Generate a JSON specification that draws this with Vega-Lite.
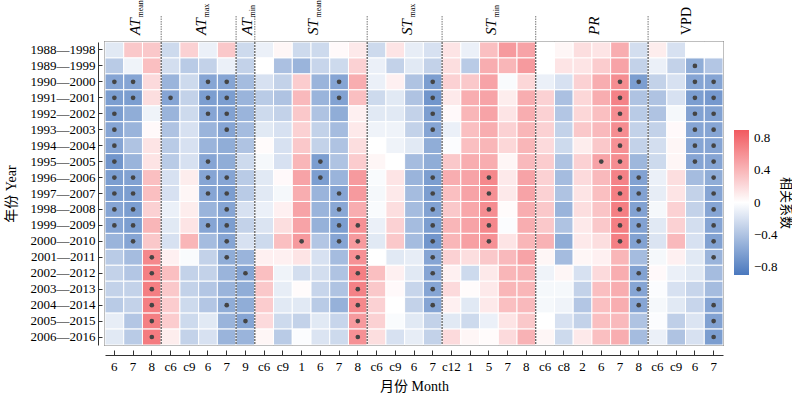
{
  "$schema": "https://vega.github.io/schema/vega-lite/v6.json",
  "background": "white",
  "padding": {"left": 3, "right": 0, "top": 0, "bottom": 0},
  "spacing": 0,
  "bounds": "flush",
  "config": {
    "font": "Liberation Serif, Noto Sans CJK SC",
    "axis": {"labelFont": "Liberation Serif", "labelFontSize": 13, "labelColor": "#000", "titleFont": "Liberation Serif, Noto Sans CJK SC", "titleFontSize": 14, "titleFontWeight": "normal", "titleColor": "#000", "tickColor": "#333", "domainColor": "#333", "grid": false},
    "legend": {"labelFont": "Liberation Serif", "labelFontSize": 13, "labelColor": "#000", "titleFont": "Noto Sans CJK SC", "titleFontSize": 13, "titleFontWeight": "normal", "titleColor": "#000"}
  },
  "datasets": {
    "bounds": [{"b": "ATmax c6"}, {"b": "ATmin 9"}, {"b": "STmean c6"}, {"b": "STmax c6"}, {"b": "STmin c12"}, {"b": "PR c6"}, {"b": "VPD c6"}],
    "groups": [
      {"g": "AT", "sub": "mean", "at": "ATmean 7", "even": 0, "it": 1},
      {"g": "AT", "sub": "max", "at": "ATmax 6", "even": 1, "it": 1},
      {"g": "AT", "sub": "min", "at": "ATmin 9", "even": 0, "it": 1},
      {"g": "ST", "sub": "mean", "at": "STmean 6", "even": 1, "it": 1},
      {"g": "ST", "sub": "max", "at": "STmax 6", "even": 1, "it": 1},
      {"g": "ST", "sub": "min", "at": "STmin 5", "even": 0, "it": 1},
      {"g": "PR", "sub": "", "at": "PR 6", "even": 1, "it": 1},
      {"g": "VPD", "sub": "", "at": "VPD 6", "even": 1, "it": 0}
    ],
    "cells": [
{"p":"1988—1998","c":"ATmean 6","r":-0.15},{"p":"1988—1998","c":"ATmean 7","r":0.3},{"p":"1988—1998","c":"ATmean 8","r":0.3},{"p":"1988—1998","c":"ATmax c6","r":-0.25},{"p":"1988—1998","c":"ATmax c9","r":0.25},{"p":"1988—1998","c":"ATmax 6","r":-0.1},{"p":"1988—1998","c":"ATmax 7","r":0.3},{"p":"1988—1998","c":"ATmin 9","r":-0.25},{"p":"1988—1998","c":"STmean c6","r":-0.1},{"p":"1988—1998","c":"STmean c9","r":0.05},{"p":"1988—1998","c":"STmean 1","r":-0.25},{"p":"1988—1998","c":"STmean 6","r":-0.25},{"p":"1988—1998","c":"STmean 7","r":0.03},{"p":"1988—1998","c":"STmean 8","r":0.12},{"p":"1988—1998","c":"STmax c6","r":-0.25},{"p":"1988—1998","c":"STmax c9","r":0.15},{"p":"1988—1998","c":"STmax 6","r":-0.12},{"p":"1988—1998","c":"STmax 7","r":-0.2},{"p":"1988—1998","c":"STmin c12","r":0.15},{"p":"1988—1998","c":"STmin 1","r":-0.1},{"p":"1988—1998","c":"STmin 5","r":0.35},{"p":"1988—1998","c":"STmin 7","r":0.55},{"p":"1988—1998","c":"STmin 8","r":0.5},{"p":"1988—1998","c":"PR c6","r":0.0},{"p":"1988—1998","c":"PR c8","r":0.05},{"p":"1988—1998","c":"PR 2","r":0.18},{"p":"1988—1998","c":"PR 6","r":0.15},{"p":"1988—1998","c":"PR 7","r":0.45},{"p":"1988—1998","c":"PR 8","r":-0.22},{"p":"1988—1998","c":"VPD c6","r":0.1},{"p":"1988—1998","c":"VPD c9","r":-0.2},{"p":"1988—1998","c":"VPD 6","r":0.0},{"p":"1988—1998","c":"VPD 7","r":0.0},
{"p":"1989—1999","c":"ATmean 6","r":-0.35},{"p":"1989—1999","c":"ATmean 7","r":-0.08},{"p":"1989—1999","c":"ATmean 8","r":0.35},{"p":"1989—1999","c":"ATmax c6","r":-0.22},{"p":"1989—1999","c":"ATmax c9","r":-0.35},{"p":"1989—1999","c":"ATmax 6","r":-0.3},{"p":"1989—1999","c":"ATmax 7","r":-0.1},{"p":"1989—1999","c":"ATmin 9","r":-0.3},{"p":"1989—1999","c":"STmean c6","r":0.0},{"p":"1989—1999","c":"STmean c9","r":-0.42},{"p":"1989—1999","c":"STmean 1","r":-0.5},{"p":"1989—1999","c":"STmean 6","r":-0.28},{"p":"1989—1999","c":"STmean 7","r":-0.25},{"p":"1989—1999","c":"STmean 8","r":0.25},{"p":"1989—1999","c":"STmax c6","r":-0.1},{"p":"1989—1999","c":"STmax c9","r":-0.3},{"p":"1989—1999","c":"STmax 6","r":-0.15},{"p":"1989—1999","c":"STmax 7","r":-0.3},{"p":"1989—1999","c":"STmin c12","r":0.18},{"p":"1989—1999","c":"STmin 1","r":-0.35},{"p":"1989—1999","c":"STmin 5","r":0.45},{"p":"1989—1999","c":"STmin 7","r":0.4},{"p":"1989—1999","c":"STmin 8","r":0.55},{"p":"1989—1999","c":"PR c6","r":0.0},{"p":"1989—1999","c":"PR c8","r":0.15},{"p":"1989—1999","c":"PR 2","r":0.15},{"p":"1989—1999","c":"PR 6","r":0.28},{"p":"1989—1999","c":"PR 7","r":0.5},{"p":"1989—1999","c":"PR 8","r":-0.3},{"p":"1989—1999","c":"VPD c6","r":-0.1},{"p":"1989—1999","c":"VPD c9","r":-0.3},{"p":"1989—1999","c":"VPD 6","r":-0.55,"s":1},{"p":"1989—1999","c":"VPD 7","r":-0.38},
{"p":"1990—2000","c":"ATmean 6","r":-0.6,"s":1},{"p":"1990—2000","c":"ATmean 7","r":-0.6,"s":1},{"p":"1990—2000","c":"ATmean 8","r":0.2},{"p":"1990—2000","c":"ATmax c6","r":-0.5},{"p":"1990—2000","c":"ATmax c9","r":-0.25},{"p":"1990—2000","c":"ATmax 6","r":-0.6,"s":1},{"p":"1990—2000","c":"ATmax 7","r":-0.6,"s":1},{"p":"1990—2000","c":"ATmin 9","r":-0.45},{"p":"1990—2000","c":"STmean c6","r":-0.2},{"p":"1990—2000","c":"STmean c9","r":-0.3},{"p":"1990—2000","c":"STmean 1","r":0.28},{"p":"1990—2000","c":"STmean 6","r":-0.5},{"p":"1990—2000","c":"STmean 7","r":-0.6,"s":1},{"p":"1990—2000","c":"STmean 8","r":0.45},{"p":"1990—2000","c":"STmax c6","r":-0.1},{"p":"1990—2000","c":"STmax c9","r":0.08},{"p":"1990—2000","c":"STmax 6","r":-0.4},{"p":"1990—2000","c":"STmax 7","r":-0.65,"s":1},{"p":"1990—2000","c":"STmin c12","r":0.25},{"p":"1990—2000","c":"STmin 1","r":0.3},{"p":"1990—2000","c":"STmin 5","r":0.5},{"p":"1990—2000","c":"STmin 7","r":-0.03},{"p":"1990—2000","c":"STmin 8","r":0.22},{"p":"1990—2000","c":"PR c6","r":-0.1},{"p":"1990—2000","c":"PR c8","r":-0.2},{"p":"1990—2000","c":"PR 2","r":0.25},{"p":"1990—2000","c":"PR 6","r":0.45},{"p":"1990—2000","c":"PR 7","r":0.62,"s":1},{"p":"1990—2000","c":"PR 8","r":-0.65,"s":1},{"p":"1990—2000","c":"VPD c6","r":-0.3},{"p":"1990—2000","c":"VPD c9","r":-0.2},{"p":"1990—2000","c":"VPD 6","r":-0.6,"s":1},{"p":"1990—2000","c":"VPD 7","r":-0.6,"s":1},
{"p":"1991—2001","c":"ATmean 6","r":-0.65,"s":1},{"p":"1991—2001","c":"ATmean 7","r":-0.65,"s":1},{"p":"1991—2001","c":"ATmean 8","r":0.18},{"p":"1991—2001","c":"ATmax c6","r":-0.6,"s":1},{"p":"1991—2001","c":"ATmax c9","r":-0.3},{"p":"1991—2001","c":"ATmax 6","r":-0.65,"s":1},{"p":"1991—2001","c":"ATmax 7","r":-0.65,"s":1},{"p":"1991—2001","c":"ATmin 9","r":-0.5},{"p":"1991—2001","c":"STmean c6","r":-0.35},{"p":"1991—2001","c":"STmean c9","r":-0.4},{"p":"1991—2001","c":"STmean 1","r":0.38},{"p":"1991—2001","c":"STmean 6","r":-0.5},{"p":"1991—2001","c":"STmean 7","r":-0.62,"s":1},{"p":"1991—2001","c":"STmean 8","r":0.35},{"p":"1991—2001","c":"STmax c6","r":-0.25},{"p":"1991—2001","c":"STmax c9","r":-0.15},{"p":"1991—2001","c":"STmax 6","r":-0.4},{"p":"1991—2001","c":"STmax 7","r":-0.7,"s":1},{"p":"1991—2001","c":"STmin c12","r":0.12},{"p":"1991—2001","c":"STmin 1","r":0.45},{"p":"1991—2001","c":"STmin 5","r":0.5},{"p":"1991—2001","c":"STmin 7","r":0.1},{"p":"1991—2001","c":"STmin 8","r":0.45},{"p":"1991—2001","c":"PR c6","r":0.25},{"p":"1991—2001","c":"PR c8","r":-0.42},{"p":"1991—2001","c":"PR 2","r":0.22},{"p":"1991—2001","c":"PR 6","r":0.45},{"p":"1991—2001","c":"PR 7","r":0.68,"s":1},{"p":"1991—2001","c":"PR 8","r":-0.4},{"p":"1991—2001","c":"VPD c6","r":-0.4},{"p":"1991—2001","c":"VPD c9","r":-0.2},{"p":"1991—2001","c":"VPD 6","r":-0.65,"s":1},{"p":"1991—2001","c":"VPD 7","r":-0.68,"s":1},
{"p":"1992—2002","c":"ATmean 6","r":-0.65,"s":1},{"p":"1992—2002","c":"ATmean 7","r":-0.55},{"p":"1992—2002","c":"ATmean 8","r":-0.08},{"p":"1992—2002","c":"ATmax c6","r":-0.5},{"p":"1992—2002","c":"ATmax c9","r":-0.25},{"p":"1992—2002","c":"ATmax 6","r":-0.6,"s":1},{"p":"1992—2002","c":"ATmax 7","r":-0.62,"s":1},{"p":"1992—2002","c":"ATmin 9","r":-0.5},{"p":"1992—2002","c":"STmean c6","r":-0.25},{"p":"1992—2002","c":"STmean c9","r":-0.3},{"p":"1992—2002","c":"STmean 1","r":0.3},{"p":"1992—2002","c":"STmean 6","r":-0.4},{"p":"1992—2002","c":"STmean 7","r":-0.55},{"p":"1992—2002","c":"STmean 8","r":0.08},{"p":"1992—2002","c":"STmax c6","r":-0.15},{"p":"1992—2002","c":"STmax c9","r":-0.15},{"p":"1992—2002","c":"STmax 6","r":-0.3},{"p":"1992—2002","c":"STmax 7","r":-0.65,"s":1},{"p":"1992—2002","c":"STmin c12","r":0.03},{"p":"1992—2002","c":"STmin 1","r":0.4},{"p":"1992—2002","c":"STmin 5","r":0.5},{"p":"1992—2002","c":"STmin 7","r":0.15},{"p":"1992—2002","c":"STmin 8","r":0.45},{"p":"1992—2002","c":"PR c6","r":0.25},{"p":"1992—2002","c":"PR c8","r":-0.38},{"p":"1992—2002","c":"PR 2","r":0.22},{"p":"1992—2002","c":"PR 6","r":0.35},{"p":"1992—2002","c":"PR 7","r":0.62,"s":1},{"p":"1992—2002","c":"PR 8","r":-0.35},{"p":"1992—2002","c":"VPD c6","r":-0.4},{"p":"1992—2002","c":"VPD c9","r":-0.05},{"p":"1992—2002","c":"VPD 6","r":-0.62,"s":1},{"p":"1992—2002","c":"VPD 7","r":-0.62,"s":1},
{"p":"1993—2003","c":"ATmean 6","r":-0.6,"s":1},{"p":"1993—2003","c":"ATmean 7","r":-0.5},{"p":"1993—2003","c":"ATmean 8","r":0.03},{"p":"1993—2003","c":"ATmax c6","r":-0.4},{"p":"1993—2003","c":"ATmax c9","r":-0.2},{"p":"1993—2003","c":"ATmax 6","r":-0.5},{"p":"1993—2003","c":"ATmax 7","r":-0.6,"s":1},{"p":"1993—2003","c":"ATmin 9","r":-0.45},{"p":"1993—2003","c":"STmean c6","r":-0.15},{"p":"1993—2003","c":"STmean c9","r":-0.2},{"p":"1993—2003","c":"STmean 1","r":0.25},{"p":"1993—2003","c":"STmean 6","r":-0.3},{"p":"1993—2003","c":"STmean 7","r":-0.45},{"p":"1993—2003","c":"STmean 8","r":0.12},{"p":"1993—2003","c":"STmax c6","r":-0.08},{"p":"1993—2003","c":"STmax c9","r":-0.08},{"p":"1993—2003","c":"STmax 6","r":-0.3},{"p":"1993—2003","c":"STmax 7","r":-0.6,"s":1},{"p":"1993—2003","c":"STmin c12","r":-0.1},{"p":"1993—2003","c":"STmin 1","r":0.35},{"p":"1993—2003","c":"STmin 5","r":0.45},{"p":"1993—2003","c":"STmin 7","r":0.25},{"p":"1993—2003","c":"STmin 8","r":0.4},{"p":"1993—2003","c":"PR c6","r":0.25},{"p":"1993—2003","c":"PR c8","r":-0.3},{"p":"1993—2003","c":"PR 2","r":0.3},{"p":"1993—2003","c":"PR 6","r":0.38},{"p":"1993—2003","c":"PR 7","r":0.62,"s":1},{"p":"1993—2003","c":"PR 8","r":-0.3},{"p":"1993—2003","c":"VPD c6","r":-0.3},{"p":"1993—2003","c":"VPD c9","r":0.03},{"p":"1993—2003","c":"VPD 6","r":-0.6,"s":1},{"p":"1993—2003","c":"VPD 7","r":-0.6,"s":1},
{"p":"1994—2004","c":"ATmean 6","r":-0.6,"s":1},{"p":"1994—2004","c":"ATmean 7","r":-0.4},{"p":"1994—2004","c":"ATmean 8","r":0.15},{"p":"1994—2004","c":"ATmax c6","r":-0.35},{"p":"1994—2004","c":"ATmax c9","r":-0.2},{"p":"1994—2004","c":"ATmax 6","r":-0.5},{"p":"1994—2004","c":"ATmax 7","r":-0.55},{"p":"1994—2004","c":"ATmin 9","r":-0.4},{"p":"1994—2004","c":"STmean c6","r":0.02},{"p":"1994—2004","c":"STmean c9","r":-0.2},{"p":"1994—2004","c":"STmean 1","r":0.3},{"p":"1994—2004","c":"STmean 6","r":-0.3},{"p":"1994—2004","c":"STmean 7","r":-0.4},{"p":"1994—2004","c":"STmean 8","r":0.18},{"p":"1994—2004","c":"STmax c6","r":0.0},{"p":"1994—2004","c":"STmax c9","r":-0.08},{"p":"1994—2004","c":"STmax 6","r":-0.15},{"p":"1994—2004","c":"STmax 7","r":-0.55},{"p":"1994—2004","c":"STmin c12","r":-0.02},{"p":"1994—2004","c":"STmin 1","r":0.35},{"p":"1994—2004","c":"STmin 5","r":0.4},{"p":"1994—2004","c":"STmin 7","r":0.22},{"p":"1994—2004","c":"STmin 8","r":0.4},{"p":"1994—2004","c":"PR c6","r":0.2},{"p":"1994—2004","c":"PR c8","r":-0.25},{"p":"1994—2004","c":"PR 2","r":0.1},{"p":"1994—2004","c":"PR 6","r":0.3},{"p":"1994—2004","c":"PR 7","r":0.6,"s":1},{"p":"1994—2004","c":"PR 8","r":-0.3},{"p":"1994—2004","c":"VPD c6","r":-0.22},{"p":"1994—2004","c":"VPD c9","r":0.05},{"p":"1994—2004","c":"VPD 6","r":-0.6,"s":1},{"p":"1994—2004","c":"VPD 7","r":-0.6,"s":1},
{"p":"1995—2005","c":"ATmean 6","r":-0.7,"s":1},{"p":"1995—2005","c":"ATmean 7","r":-0.5},{"p":"1995—2005","c":"ATmean 8","r":0.15},{"p":"1995—2005","c":"ATmax c6","r":-0.35},{"p":"1995—2005","c":"ATmax c9","r":-0.2},{"p":"1995—2005","c":"ATmax 6","r":-0.6,"s":1},{"p":"1995—2005","c":"ATmax 7","r":-0.55},{"p":"1995—2005","c":"ATmin 9","r":-0.25},{"p":"1995—2005","c":"STmean c6","r":-0.05},{"p":"1995—2005","c":"STmean c9","r":-0.2},{"p":"1995—2005","c":"STmean 1","r":0.4},{"p":"1995—2005","c":"STmean 6","r":-0.65,"s":1},{"p":"1995—2005","c":"STmean 7","r":-0.4},{"p":"1995—2005","c":"STmean 8","r":0.28},{"p":"1995—2005","c":"STmax c6","r":0.05},{"p":"1995—2005","c":"STmax c9","r":0.0},{"p":"1995—2005","c":"STmax 6","r":-0.45},{"p":"1995—2005","c":"STmax 7","r":-0.55},{"p":"1995—2005","c":"STmin c12","r":0.3},{"p":"1995—2005","c":"STmin 1","r":0.45},{"p":"1995—2005","c":"STmin 5","r":0.45},{"p":"1995—2005","c":"STmin 7","r":0.05},{"p":"1995—2005","c":"STmin 8","r":0.38},{"p":"1995—2005","c":"PR c6","r":0.28},{"p":"1995—2005","c":"PR c8","r":-0.4},{"p":"1995—2005","c":"PR 2","r":0.25},{"p":"1995—2005","c":"PR 6","r":0.5,"s":1},{"p":"1995—2005","c":"PR 7","r":0.62,"s":1},{"p":"1995—2005","c":"PR 8","r":-0.48},{"p":"1995—2005","c":"VPD c6","r":-0.25},{"p":"1995—2005","c":"VPD c9","r":0.05},{"p":"1995—2005","c":"VPD 6","r":-0.6,"s":1},{"p":"1995—2005","c":"VPD 7","r":-0.6,"s":1},
{"p":"1996—2006","c":"ATmean 6","r":-0.65,"s":1},{"p":"1996—2006","c":"ATmean 7","r":-0.62,"s":1},{"p":"1996—2006","c":"ATmean 8","r":0.35},{"p":"1996—2006","c":"ATmax c6","r":-0.2},{"p":"1996—2006","c":"ATmax c9","r":0.1},{"p":"1996—2006","c":"ATmax 6","r":-0.6,"s":1},{"p":"1996—2006","c":"ATmax 7","r":-0.6,"s":1},{"p":"1996—2006","c":"ATmin 9","r":-0.35},{"p":"1996—2006","c":"STmean c6","r":-0.15},{"p":"1996—2006","c":"STmean c9","r":0.03},{"p":"1996—2006","c":"STmean 1","r":0.5},{"p":"1996—2006","c":"STmean 6","r":-0.65,"s":1},{"p":"1996—2006","c":"STmean 7","r":-0.5},{"p":"1996—2006","c":"STmean 8","r":0.55},{"p":"1996—2006","c":"STmax c6","r":-0.03},{"p":"1996—2006","c":"STmax c9","r":0.15},{"p":"1996—2006","c":"STmax 6","r":-0.5},{"p":"1996—2006","c":"STmax 7","r":-0.65,"s":1},{"p":"1996—2006","c":"STmin c12","r":0.45},{"p":"1996—2006","c":"STmin 1","r":0.5},{"p":"1996—2006","c":"STmin 5","r":0.65,"s":1},{"p":"1996—2006","c":"STmin 7","r":0.12},{"p":"1996—2006","c":"STmin 8","r":0.5},{"p":"1996—2006","c":"PR c6","r":0.25},{"p":"1996—2006","c":"PR c8","r":-0.45},{"p":"1996—2006","c":"PR 2","r":0.2},{"p":"1996—2006","c":"PR 6","r":0.38},{"p":"1996—2006","c":"PR 7","r":0.68,"s":1},{"p":"1996—2006","c":"PR 8","r":-0.62,"s":1},{"p":"1996—2006","c":"VPD c6","r":-0.1},{"p":"1996—2006","c":"VPD c9","r":0.18},{"p":"1996—2006","c":"VPD 6","r":-0.45},{"p":"1996—2006","c":"VPD 7","r":-0.55,"s":1},
{"p":"1997—2007","c":"ATmean 6","r":-0.65,"s":1},{"p":"1997—2007","c":"ATmean 7","r":-0.65,"s":1},{"p":"1997—2007","c":"ATmean 8","r":0.35},{"p":"1997—2007","c":"ATmax c6","r":-0.2},{"p":"1997—2007","c":"ATmax c9","r":0.05},{"p":"1997—2007","c":"ATmax 6","r":-0.6,"s":1},{"p":"1997—2007","c":"ATmax 7","r":-0.65,"s":1},{"p":"1997—2007","c":"ATmin 9","r":-0.35},{"p":"1997—2007","c":"STmean c6","r":-0.15},{"p":"1997—2007","c":"STmean c9","r":-0.05},{"p":"1997—2007","c":"STmean 1","r":0.45},{"p":"1997—2007","c":"STmean 6","r":-0.5},{"p":"1997—2007","c":"STmean 7","r":-0.6,"s":1},{"p":"1997—2007","c":"STmean 8","r":0.55},{"p":"1997—2007","c":"STmax c6","r":-0.05},{"p":"1997—2007","c":"STmax c9","r":0.12},{"p":"1997—2007","c":"STmax 6","r":-0.45},{"p":"1997—2007","c":"STmax 7","r":-0.65,"s":1},{"p":"1997—2007","c":"STmin c12","r":0.35},{"p":"1997—2007","c":"STmin 1","r":0.5},{"p":"1997—2007","c":"STmin 5","r":0.6,"s":1},{"p":"1997—2007","c":"STmin 7","r":0.12},{"p":"1997—2007","c":"STmin 8","r":0.5},{"p":"1997—2007","c":"PR c6","r":0.25},{"p":"1997—2007","c":"PR c8","r":-0.4},{"p":"1997—2007","c":"PR 2","r":0.15},{"p":"1997—2007","c":"PR 6","r":0.35},{"p":"1997—2007","c":"PR 7","r":0.7,"s":1},{"p":"1997—2007","c":"PR 8","r":-0.62,"s":1},{"p":"1997—2007","c":"VPD c6","r":-0.12},{"p":"1997—2007","c":"VPD c9","r":0.15},{"p":"1997—2007","c":"VPD 6","r":-0.3},{"p":"1997—2007","c":"VPD 7","r":-0.6,"s":1},
{"p":"1998—2008","c":"ATmean 6","r":-0.6,"s":1},{"p":"1998—2008","c":"ATmean 7","r":-0.65,"s":1},{"p":"1998—2008","c":"ATmean 8","r":0.25},{"p":"1998—2008","c":"ATmax c6","r":-0.1},{"p":"1998—2008","c":"ATmax c9","r":0.1},{"p":"1998—2008","c":"ATmax 6","r":-0.5},{"p":"1998—2008","c":"ATmax 7","r":-0.6,"s":1},{"p":"1998—2008","c":"ATmin 9","r":-0.2},{"p":"1998—2008","c":"STmean c6","r":-0.1},{"p":"1998—2008","c":"STmean c9","r":0.08},{"p":"1998—2008","c":"STmean 1","r":0.5},{"p":"1998—2008","c":"STmean 6","r":-0.5},{"p":"1998—2008","c":"STmean 7","r":-0.58,"s":1},{"p":"1998—2008","c":"STmean 8","r":0.45},{"p":"1998—2008","c":"STmax c6","r":-0.03},{"p":"1998—2008","c":"STmax c9","r":0.18},{"p":"1998—2008","c":"STmax 6","r":-0.45},{"p":"1998—2008","c":"STmax 7","r":-0.62,"s":1},{"p":"1998—2008","c":"STmin c12","r":0.3},{"p":"1998—2008","c":"STmin 1","r":0.48},{"p":"1998—2008","c":"STmin 5","r":0.62,"s":1},{"p":"1998—2008","c":"STmin 7","r":0.02},{"p":"1998—2008","c":"STmin 8","r":0.45},{"p":"1998—2008","c":"PR c6","r":0.3},{"p":"1998—2008","c":"PR c8","r":-0.5},{"p":"1998—2008","c":"PR 2","r":0.18},{"p":"1998—2008","c":"PR 6","r":0.32},{"p":"1998—2008","c":"PR 7","r":0.7,"s":1},{"p":"1998—2008","c":"PR 8","r":-0.62,"s":1},{"p":"1998—2008","c":"VPD c6","r":-0.05},{"p":"1998—2008","c":"VPD c9","r":0.25},{"p":"1998—2008","c":"VPD 6","r":-0.3},{"p":"1998—2008","c":"VPD 7","r":-0.6,"s":1},
{"p":"1999—2009","c":"ATmean 6","r":-0.6,"s":1},{"p":"1999—2009","c":"ATmean 7","r":-0.65,"s":1},{"p":"1999—2009","c":"ATmean 8","r":0.4},{"p":"1999—2009","c":"ATmax c6","r":-0.15},{"p":"1999—2009","c":"ATmax c9","r":0.15},{"p":"1999—2009","c":"ATmax 6","r":-0.6,"s":1},{"p":"1999—2009","c":"ATmax 7","r":-0.65,"s":1},{"p":"1999—2009","c":"ATmin 9","r":-0.3},{"p":"1999—2009","c":"STmean c6","r":-0.18},{"p":"1999—2009","c":"STmean c9","r":0.18},{"p":"1999—2009","c":"STmean 1","r":0.5},{"p":"1999—2009","c":"STmean 6","r":-0.52},{"p":"1999—2009","c":"STmean 7","r":-0.65,"s":1},{"p":"1999—2009","c":"STmean 8","r":0.6,"s":1},{"p":"1999—2009","c":"STmax c6","r":-0.1},{"p":"1999—2009","c":"STmax c9","r":0.25},{"p":"1999—2009","c":"STmax 6","r":-0.45},{"p":"1999—2009","c":"STmax 7","r":-0.65,"s":1},{"p":"1999—2009","c":"STmin c12","r":0.4},{"p":"1999—2009","c":"STmin 1","r":0.5},{"p":"1999—2009","c":"STmin 5","r":0.65,"s":1},{"p":"1999—2009","c":"STmin 7","r":-0.02},{"p":"1999—2009","c":"STmin 8","r":0.45},{"p":"1999—2009","c":"PR c6","r":0.3},{"p":"1999—2009","c":"PR c8","r":-0.4},{"p":"1999—2009","c":"PR 2","r":0.12},{"p":"1999—2009","c":"PR 6","r":0.3},{"p":"1999—2009","c":"PR 7","r":0.7,"s":1},{"p":"1999—2009","c":"PR 8","r":-0.62,"s":1},{"p":"1999—2009","c":"VPD c6","r":-0.15},{"p":"1999—2009","c":"VPD c9","r":0.25},{"p":"1999—2009","c":"VPD 6","r":-0.22},{"p":"1999—2009","c":"VPD 7","r":-0.6,"s":1},
{"p":"2000—2010","c":"ATmean 6","r":-0.5},{"p":"2000—2010","c":"ATmean 7","r":-0.6,"s":1},{"p":"2000—2010","c":"ATmean 8","r":0.3},{"p":"2000—2010","c":"ATmax c6","r":-0.2},{"p":"2000—2010","c":"ATmax c9","r":0.4},{"p":"2000—2010","c":"ATmax 6","r":-0.45},{"p":"2000—2010","c":"ATmax 7","r":-0.6,"s":1},{"p":"2000—2010","c":"ATmin 9","r":-0.2},{"p":"2000—2010","c":"STmean c6","r":-0.25},{"p":"2000—2010","c":"STmean c9","r":0.35},{"p":"2000—2010","c":"STmean 1","r":0.55,"s":1},{"p":"2000—2010","c":"STmean 6","r":-0.38},{"p":"2000—2010","c":"STmean 7","r":-0.6,"s":1},{"p":"2000—2010","c":"STmean 8","r":0.55,"s":1},{"p":"2000—2010","c":"STmax c6","r":-0.15},{"p":"2000—2010","c":"STmax c9","r":0.3},{"p":"2000—2010","c":"STmax 6","r":-0.45},{"p":"2000—2010","c":"STmax 7","r":-0.7,"s":1},{"p":"2000—2010","c":"STmin c12","r":0.4},{"p":"2000—2010","c":"STmin 1","r":0.52},{"p":"2000—2010","c":"STmin 5","r":0.6,"s":1},{"p":"2000—2010","c":"STmin 7","r":0.15},{"p":"2000—2010","c":"STmin 8","r":0.4},{"p":"2000—2010","c":"PR c6","r":0.42},{"p":"2000—2010","c":"PR c8","r":-0.55},{"p":"2000—2010","c":"PR 2","r":0.12},{"p":"2000—2010","c":"PR 6","r":0.18},{"p":"2000—2010","c":"PR 7","r":0.7,"s":1},{"p":"2000—2010","c":"PR 8","r":-0.62,"s":1},{"p":"2000—2010","c":"VPD c6","r":-0.18},{"p":"2000—2010","c":"VPD c9","r":0.38},{"p":"2000—2010","c":"VPD 6","r":-0.2},{"p":"2000—2010","c":"VPD 7","r":-0.62,"s":1},
{"p":"2001—2011","c":"ATmean 6","r":-0.35},{"p":"2001—2011","c":"ATmean 7","r":-0.45},{"p":"2001—2011","c":"ATmean 8","r":0.65,"s":1},{"p":"2001—2011","c":"ATmax c6","r":0.08},{"p":"2001—2011","c":"ATmax c9","r":-0.03},{"p":"2001—2011","c":"ATmax 6","r":-0.3},{"p":"2001—2011","c":"ATmax 7","r":-0.55,"s":1},{"p":"2001—2011","c":"ATmin 9","r":-0.5},{"p":"2001—2011","c":"STmean c6","r":0.08},{"p":"2001—2011","c":"STmean c9","r":0.08},{"p":"2001—2011","c":"STmean 1","r":0.15},{"p":"2001—2011","c":"STmean 6","r":-0.2},{"p":"2001—2011","c":"STmean 7","r":-0.45},{"p":"2001—2011","c":"STmean 8","r":0.6,"s":1},{"p":"2001—2011","c":"STmax c6","r":0.0},{"p":"2001—2011","c":"STmax c9","r":-0.15},{"p":"2001—2011","c":"STmax 6","r":-0.12},{"p":"2001—2011","c":"STmax 7","r":-0.6,"s":1},{"p":"2001—2011","c":"STmin c12","r":0.25},{"p":"2001—2011","c":"STmin 1","r":0.18},{"p":"2001—2011","c":"STmin 5","r":0.3},{"p":"2001—2011","c":"STmin 7","r":0.38},{"p":"2001—2011","c":"STmin 8","r":0.5},{"p":"2001—2011","c":"PR c6","r":0.05},{"p":"2001—2011","c":"PR c8","r":-0.45},{"p":"2001—2011","c":"PR 2","r":0.05},{"p":"2001—2011","c":"PR 6","r":0.08},{"p":"2001—2011","c":"PR 7","r":0.4},{"p":"2001—2011","c":"PR 8","r":-0.45},{"p":"2001—2011","c":"VPD c6","r":-0.05},{"p":"2001—2011","c":"VPD c9","r":0.08},{"p":"2001—2011","c":"VPD 6","r":-0.15},{"p":"2001—2011","c":"VPD 7","r":-0.5,"s":1},
{"p":"2002—2012","c":"ATmean 6","r":-0.3},{"p":"2002—2012","c":"ATmean 7","r":-0.38},{"p":"2002—2012","c":"ATmean 8","r":0.7,"s":1},{"p":"2002—2012","c":"ATmax c6","r":0.35},{"p":"2002—2012","c":"ATmax c9","r":-0.3},{"p":"2002—2012","c":"ATmax 6","r":-0.3},{"p":"2002—2012","c":"ATmax 7","r":-0.5},{"p":"2002—2012","c":"ATmin 9","r":-0.6,"s":1},{"p":"2002—2012","c":"STmean c6","r":0.35},{"p":"2002—2012","c":"STmean c9","r":-0.08},{"p":"2002—2012","c":"STmean 1","r":-0.22},{"p":"2002—2012","c":"STmean 6","r":-0.22},{"p":"2002—2012","c":"STmean 7","r":-0.4},{"p":"2002—2012","c":"STmean 8","r":0.7,"s":1},{"p":"2002—2012","c":"STmax c6","r":0.35},{"p":"2002—2012","c":"STmax c9","r":0.08},{"p":"2002—2012","c":"STmax 6","r":-0.15},{"p":"2002—2012","c":"STmax 7","r":-0.6,"s":1},{"p":"2002—2012","c":"STmin c12","r":0.08},{"p":"2002—2012","c":"STmin 1","r":-0.25},{"p":"2002—2012","c":"STmin 5","r":0.12},{"p":"2002—2012","c":"STmin 7","r":0.4},{"p":"2002—2012","c":"STmin 8","r":0.42},{"p":"2002—2012","c":"PR c6","r":-0.08},{"p":"2002—2012","c":"PR c8","r":0.05},{"p":"2002—2012","c":"PR 2","r":-0.2},{"p":"2002—2012","c":"PR 6","r":0.2},{"p":"2002—2012","c":"PR 7","r":0.45},{"p":"2002—2012","c":"PR 8","r":-0.62,"s":1},{"p":"2002—2012","c":"VPD c6","r":0.03},{"p":"2002—2012","c":"VPD c9","r":-0.1},{"p":"2002—2012","c":"VPD 6","r":-0.15},{"p":"2002—2012","c":"VPD 7","r":-0.45},
{"p":"2003—2013","c":"ATmean 6","r":-0.3},{"p":"2003—2013","c":"ATmean 7","r":-0.3},{"p":"2003—2013","c":"ATmean 8","r":0.7,"s":1},{"p":"2003—2013","c":"ATmax c6","r":0.3},{"p":"2003—2013","c":"ATmax c9","r":-0.3},{"p":"2003—2013","c":"ATmax 6","r":-0.38},{"p":"2003—2013","c":"ATmax 7","r":-0.5},{"p":"2003—2013","c":"ATmin 9","r":-0.55},{"p":"2003—2013","c":"STmean c6","r":0.3},{"p":"2003—2013","c":"STmean c9","r":-0.12},{"p":"2003—2013","c":"STmean 1","r":0.02},{"p":"2003—2013","c":"STmean 6","r":-0.28},{"p":"2003—2013","c":"STmean 7","r":-0.4},{"p":"2003—2013","c":"STmean 8","r":0.68,"s":1},{"p":"2003—2013","c":"STmax c6","r":0.3},{"p":"2003—2013","c":"STmax c9","r":0.03},{"p":"2003—2013","c":"STmax 6","r":-0.28},{"p":"2003—2013","c":"STmax 7","r":-0.6,"s":1},{"p":"2003—2013","c":"STmin c12","r":0.2},{"p":"2003—2013","c":"STmin 1","r":0.02},{"p":"2003—2013","c":"STmin 5","r":0.12},{"p":"2003—2013","c":"STmin 7","r":0.4},{"p":"2003—2013","c":"STmin 8","r":0.4},{"p":"2003—2013","c":"PR c6","r":-0.05},{"p":"2003—2013","c":"PR c8","r":-0.05},{"p":"2003—2013","c":"PR 2","r":-0.3},{"p":"2003—2013","c":"PR 6","r":0.35},{"p":"2003—2013","c":"PR 7","r":0.45},{"p":"2003—2013","c":"PR 8","r":-0.6,"s":1},{"p":"2003—2013","c":"VPD c6","r":-0.02},{"p":"2003—2013","c":"VPD c9","r":-0.2},{"p":"2003—2013","c":"VPD 6","r":-0.28},{"p":"2003—2013","c":"VPD 7","r":-0.45},
{"p":"2004—2014","c":"ATmean 6","r":-0.35},{"p":"2004—2014","c":"ATmean 7","r":-0.3},{"p":"2004—2014","c":"ATmean 8","r":0.7,"s":1},{"p":"2004—2014","c":"ATmax c6","r":0.28},{"p":"2004—2014","c":"ATmax c9","r":-0.25},{"p":"2004—2014","c":"ATmax 6","r":-0.38},{"p":"2004—2014","c":"ATmax 7","r":-0.55,"s":1},{"p":"2004—2014","c":"ATmin 9","r":-0.55},{"p":"2004—2014","c":"STmean c6","r":0.28},{"p":"2004—2014","c":"STmean c9","r":-0.15},{"p":"2004—2014","c":"STmean 1","r":-0.15},{"p":"2004—2014","c":"STmean 6","r":-0.35},{"p":"2004—2014","c":"STmean 7","r":-0.52},{"p":"2004—2014","c":"STmean 8","r":0.65,"s":1},{"p":"2004—2014","c":"STmax c6","r":0.25},{"p":"2004—2014","c":"STmax c9","r":0.0},{"p":"2004—2014","c":"STmax 6","r":-0.3},{"p":"2004—2014","c":"STmax 7","r":-0.6,"s":1},{"p":"2004—2014","c":"STmin c12","r":0.08},{"p":"2004—2014","c":"STmin 1","r":-0.15},{"p":"2004—2014","c":"STmin 5","r":0.12},{"p":"2004—2014","c":"STmin 7","r":0.35},{"p":"2004—2014","c":"STmin 8","r":0.38},{"p":"2004—2014","c":"PR c6","r":-0.05},{"p":"2004—2014","c":"PR c8","r":-0.08},{"p":"2004—2014","c":"PR 2","r":-0.38},{"p":"2004—2014","c":"PR 6","r":0.35},{"p":"2004—2014","c":"PR 7","r":0.45},{"p":"2004—2014","c":"PR 8","r":-0.6,"s":1},{"p":"2004—2014","c":"VPD c6","r":-0.05},{"p":"2004—2014","c":"VPD c9","r":-0.15},{"p":"2004—2014","c":"VPD 6","r":-0.28},{"p":"2004—2014","c":"VPD 7","r":-0.6,"s":1},
{"p":"2005—2015","c":"ATmean 6","r":-0.12},{"p":"2005—2015","c":"ATmean 7","r":-0.38},{"p":"2005—2015","c":"ATmean 8","r":0.7,"s":1},{"p":"2005—2015","c":"ATmax c6","r":0.28},{"p":"2005—2015","c":"ATmax c9","r":-0.25},{"p":"2005—2015","c":"ATmax 6","r":-0.15},{"p":"2005—2015","c":"ATmax 7","r":-0.5},{"p":"2005—2015","c":"ATmin 9","r":-0.6,"s":1},{"p":"2005—2015","c":"STmean c6","r":0.2},{"p":"2005—2015","c":"STmean c9","r":-0.25},{"p":"2005—2015","c":"STmean 1","r":-0.3},{"p":"2005—2015","c":"STmean 6","r":-0.15},{"p":"2005—2015","c":"STmean 7","r":-0.28},{"p":"2005—2015","c":"STmean 8","r":0.55,"s":1},{"p":"2005—2015","c":"STmax c6","r":0.25},{"p":"2005—2015","c":"STmax c9","r":-0.03},{"p":"2005—2015","c":"STmax 6","r":-0.15},{"p":"2005—2015","c":"STmax 7","r":-0.3},{"p":"2005—2015","c":"STmin c12","r":-0.15},{"p":"2005—2015","c":"STmin 1","r":-0.25},{"p":"2005—2015","c":"STmin 5","r":-0.1},{"p":"2005—2015","c":"STmin 7","r":0.15},{"p":"2005—2015","c":"STmin 8","r":0.3},{"p":"2005—2015","c":"PR c6","r":0.0},{"p":"2005—2015","c":"PR c8","r":-0.2},{"p":"2005—2015","c":"PR 2","r":-0.3},{"p":"2005—2015","c":"PR 6","r":0.35},{"p":"2005—2015","c":"PR 7","r":0.38},{"p":"2005—2015","c":"PR 8","r":-0.4},{"p":"2005—2015","c":"VPD c6","r":-0.02},{"p":"2005—2015","c":"VPD c9","r":-0.32},{"p":"2005—2015","c":"VPD 6","r":-0.18},{"p":"2005—2015","c":"VPD 7","r":-0.62,"s":1},
{"p":"2006—2016","c":"ATmean 6","r":-0.15},{"p":"2006—2016","c":"ATmean 7","r":-0.35},{"p":"2006—2016","c":"ATmean 8","r":0.72,"s":1},{"p":"2006—2016","c":"ATmax c6","r":0.1},{"p":"2006—2016","c":"ATmax c9","r":-0.3},{"p":"2006—2016","c":"ATmax 6","r":-0.2},{"p":"2006—2016","c":"ATmax 7","r":-0.5},{"p":"2006—2016","c":"ATmin 9","r":-0.5},{"p":"2006—2016","c":"STmean c6","r":0.05},{"p":"2006—2016","c":"STmean c9","r":-0.35},{"p":"2006—2016","c":"STmean 1","r":-0.02},{"p":"2006—2016","c":"STmean 6","r":-0.18},{"p":"2006—2016","c":"STmean 7","r":-0.25},{"p":"2006—2016","c":"STmean 8","r":0.6,"s":1},{"p":"2006—2016","c":"STmax c6","r":0.18},{"p":"2006—2016","c":"STmax c9","r":-0.2},{"p":"2006—2016","c":"STmax 6","r":-0.12},{"p":"2006—2016","c":"STmax 7","r":-0.3},{"p":"2006—2016","c":"STmin c12","r":0.2},{"p":"2006—2016","c":"STmin 1","r":0.05},{"p":"2006—2016","c":"STmin 5","r":0.02},{"p":"2006—2016","c":"STmin 7","r":0.2},{"p":"2006—2016","c":"STmin 8","r":0.42},{"p":"2006—2016","c":"PR c6","r":0.05},{"p":"2006—2016","c":"PR c8","r":-0.25},{"p":"2006—2016","c":"PR 2","r":0.12},{"p":"2006—2016","c":"PR 6","r":0.35},{"p":"2006—2016","c":"PR 7","r":0.45},{"p":"2006—2016","c":"PR 8","r":-0.45},{"p":"2006—2016","c":"VPD c6","r":-0.1},{"p":"2006—2016","c":"VPD c9","r":-0.4},{"p":"2006—2016","c":"VPD 6","r":-0.2},{"p":"2006—2016","c":"VPD 7","r":-0.65,"s":1}
    ]
  },
  "resolve": {"scale": {"x": "shared"}},
  "vconcat": [
    {
      "width": 618,
      "height": 26,
      "view": {"stroke": null},
      "layer": [
        {
          "data": {"name": "bounds"},
          "mark": {"type": "rule", "color": "#777", "strokeDash": [1.5, 1], "strokeWidth": 1},
          "encoding": {"x": {"field": "b", "type": "nominal", "bandPosition": 0, "axis": null}}
        },
        {
          "data": {"name": "groups"},
          "transform": [{"filter": "datum.even == 0 && datum.it == 1"}],
          "mark": {"type": "text", "angle": 270, "align": "left", "baseline": "middle", "dx": -6, "dy": 2, "fontSize": 15, "fontStyle": "italic", "font": "Liberation Serif"},
          "encoding": {"x": {"field": "at", "type": "nominal", "bandPosition": 0.5, "axis": null}, "text": {"field": "g"}}
        },
        {
          "data": {"name": "groups"},
          "transform": [{"filter": "datum.even == 1 && datum.it == 1"}],
          "mark": {"type": "text", "angle": 270, "align": "left", "baseline": "middle", "dx": -6, "dy": 2, "fontSize": 15, "fontStyle": "italic", "font": "Liberation Serif"},
          "encoding": {"x": {"field": "at", "type": "nominal", "bandPosition": 0, "axis": null}, "text": {"field": "g"}}
        },
        {
          "data": {"name": "groups"},
          "transform": [{"filter": "datum.it == 0"}],
          "mark": {"type": "text", "angle": 270, "align": "left", "baseline": "middle", "dx": -6, "dy": 1, "fontSize": 14, "font": "Liberation Serif"},
          "encoding": {"x": {"field": "at", "type": "nominal", "bandPosition": 0, "axis": null}, "text": {"field": "g"}}
        },
        {
          "data": {"name": "groups"},
          "transform": [{"filter": "datum.even == 0"}],
          "mark": {"type": "text", "angle": 270, "align": "left", "baseline": "middle", "dx": 11.5, "dy": 8, "fontSize": 8, "font": "Liberation Serif"},
          "encoding": {"x": {"field": "at", "type": "nominal", "bandPosition": 0.5, "axis": null}, "text": {"field": "sub"}}
        },
        {
          "data": {"name": "groups"},
          "transform": [{"filter": "datum.even == 1"}],
          "mark": {"type": "text", "angle": 270, "align": "left", "baseline": "middle", "dx": 11.5, "dy": 8, "fontSize": 8, "font": "Liberation Serif"},
          "encoding": {"x": {"field": "at", "type": "nominal", "bandPosition": 0, "axis": null}, "text": {"field": "sub"}}
        }
      ]
    },
    {
      "width": 618,
      "height": 303,
      "view": {"stroke": "#555", "strokeWidth": 1.5},
      "layer": [
        {
          "data": {"name": "cells"},
          "mark": {"type": "rect", "stroke": "white", "strokeWidth": 1},
          "encoding": {
            "x": {
              "field": "c", "type": "nominal",
              "scale": {"domain": ["ATmean 6","ATmean 7","ATmean 8","ATmax c6","ATmax c9","ATmax 6","ATmax 7","ATmin 9","STmean c6","STmean c9","STmean 1","STmean 6","STmean 7","STmean 8","STmax c6","STmax c9","STmax 6","STmax 7","STmin c12","STmin 1","STmin 5","STmin 7","STmin 8","PR c6","PR c8","PR 2","PR 6","PR 7","PR 8","VPD c6","VPD c9","VPD 6","VPD 7"], "paddingInner": 0, "paddingOuter": 0},
              "axis": {"title": "月份 Month", "labelExpr": "split(datum.label, ' ')[1]", "labelAngle": 0, "offset": 10, "tickSize": -5, "domain": true, "labelPadding": 10, "titlePadding": 6}
            },
            "y": {
              "field": "p", "type": "ordinal",
              "scale": {"paddingInner": 0, "paddingOuter": 0},
              "axis": {"title": "年份 Year", "offset": 7, "tickSize": -4, "domain": true, "labelPadding": 7, "titlePadding": 12}
            },
            "color": {
              "field": "r", "type": "quantitative",
              "scale": {"domain": [-0.9, 0, 0.9], "range": ["#4A78BE", "#FFFFFF", "#F15A60"], "interpolate": "rgb"},
              "legend": {"title": "相关系数", "orient": "none", "legendX": 629, "legendY": 114, "titleOrient": "right", "titleAngle": 270, "titlePadding": 1, "values": [-0.8, -0.4, 0, 0.4, 0.8], "labelExpr": "datum.value == 0 ? '0' : format(datum.value, '.1f')", "gradientLength": 145, "gradientThickness": 15, "labelOffset": 5}
            }
          }
        },
        {
          "data": {"name": "cells"},
          "transform": [{"filter": "datum.s == 1"}],
          "mark": {"type": "point", "filled": true, "color": "#444", "size": 22, "opacity": 1},
          "encoding": {
            "x": {"field": "c", "type": "nominal"},
            "y": {"field": "p", "type": "ordinal"}
          }
        },
        {
          "data": {"name": "bounds"},
          "mark": {"type": "rule", "color": "#555", "strokeDash": [2, 1], "strokeWidth": 1.2},
          "encoding": {"x": {"field": "b", "type": "nominal", "bandPosition": 0}}
        }
      ]
    }
  ]
}
